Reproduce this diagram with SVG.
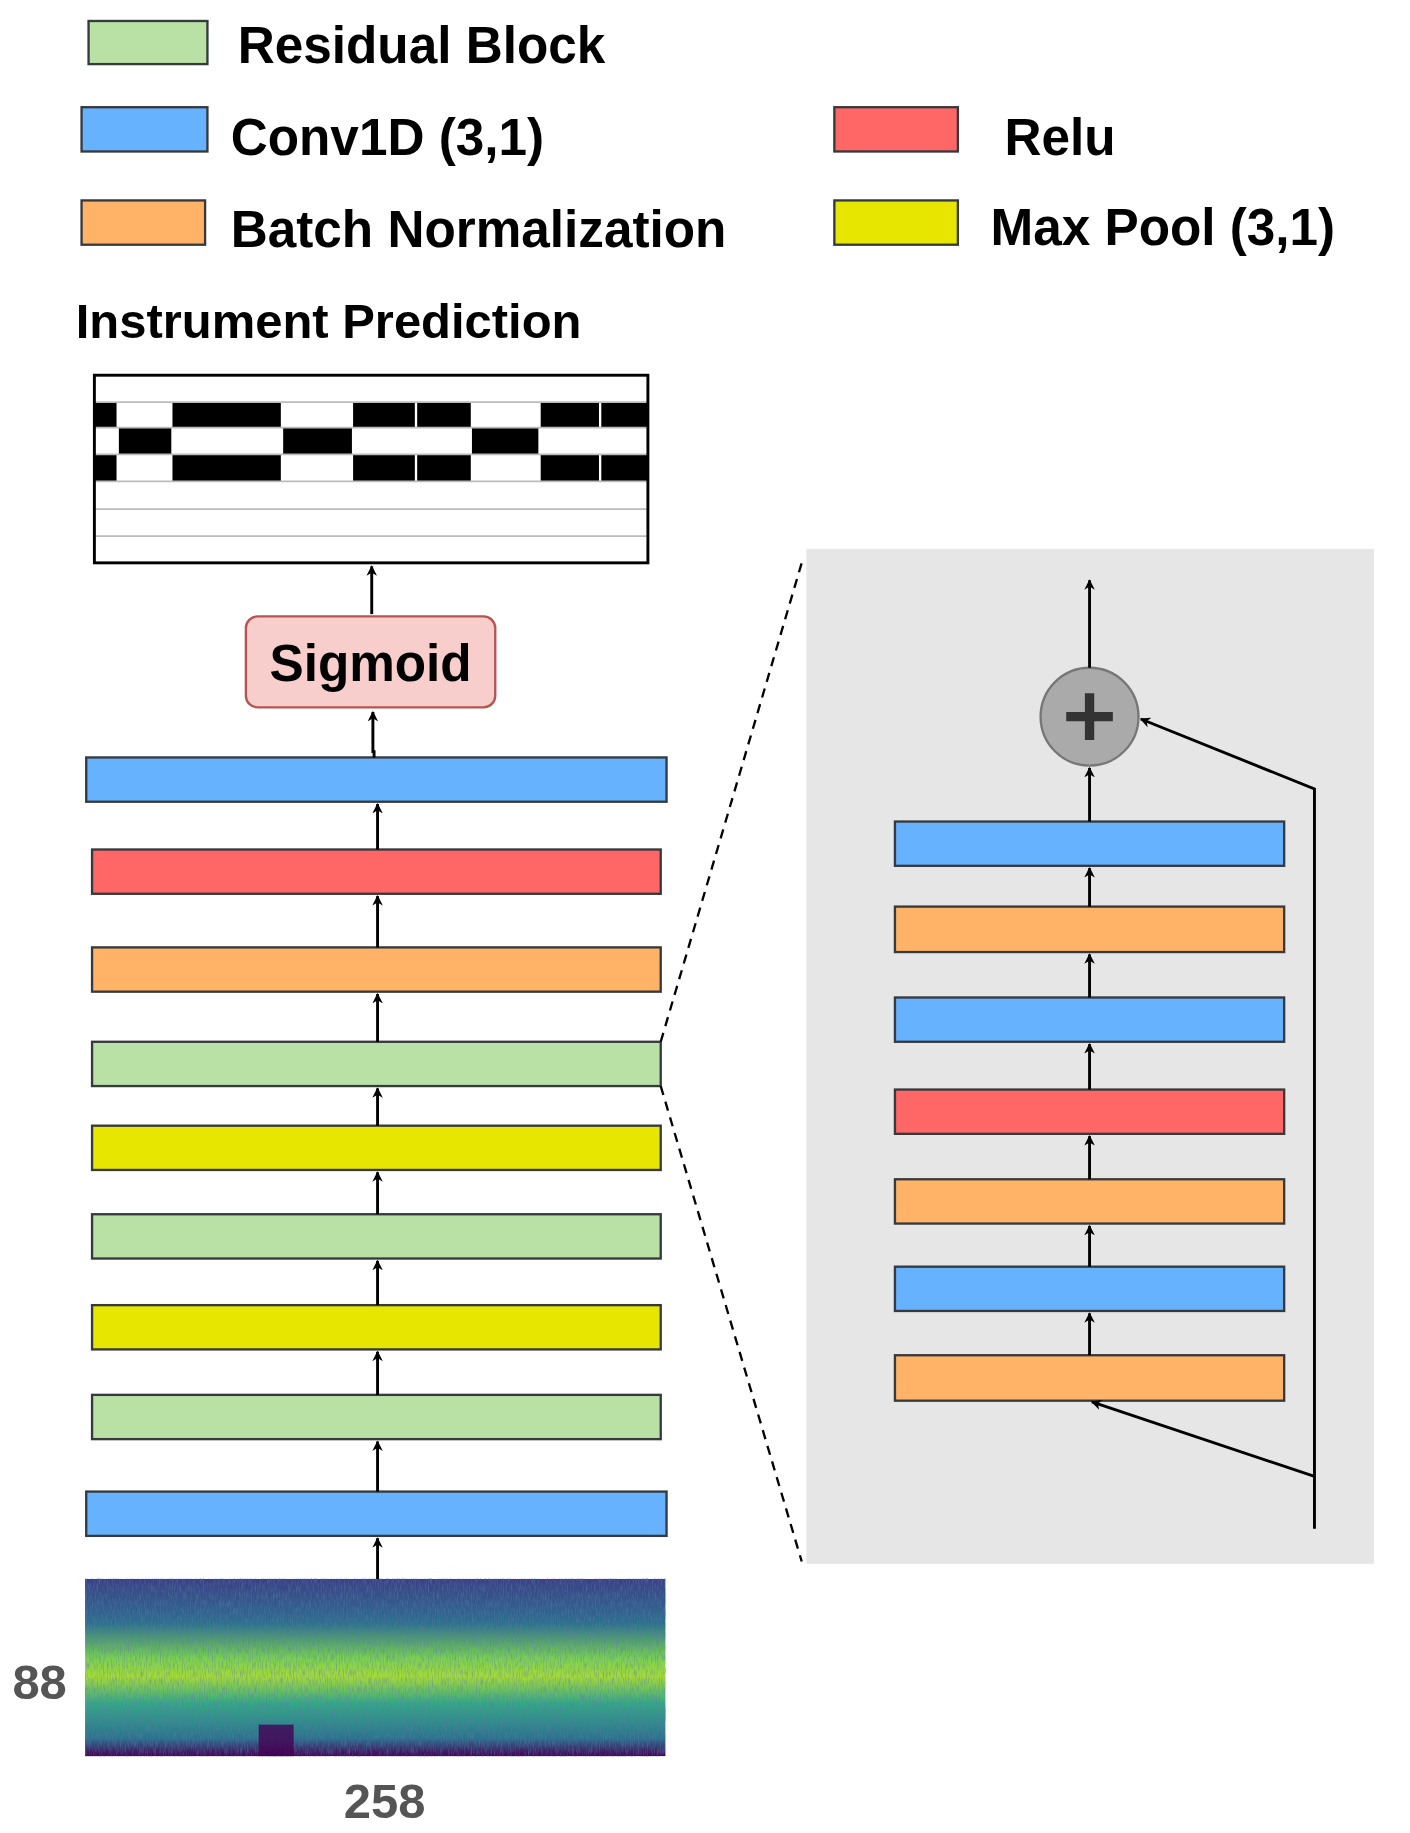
<svg xmlns="http://www.w3.org/2000/svg" width="1410" height="1833" viewBox="0 0 1410 1833">
<style>
.lt{font-family:"Liberation Sans",Arial,sans-serif;font-weight:bold;fill:#000}
.bar{stroke:#36393d;stroke-width:2}
.b{fill:#66b2ff}.o{fill:#ffb366}.r{fill:#ff6666}.g{fill:#b9e0a5}.y{fill:#e6e600}
.ar{stroke:#000;stroke-width:2.5;fill:none;marker-end:url(#ah)}
.cell{fill:#000}
.gl{stroke:#bbb;stroke-width:1.5}
</style>
<defs>
<marker id="ah" viewBox="0 0 10 10" refX="9" refY="5" markerWidth="9" markerHeight="9" orient="auto" markerUnits="userSpaceOnUse">
<path d="M0,0 L10,5 L0,10 L3,5 Z" fill="#000" transform="scale(1)"/>
</marker>
<linearGradient id="spec" x1="0" y1="0" x2="0" y2="1">
<stop offset="0" stop-color="#3b3f86"/>
<stop offset="0.25" stop-color="#2d6f8e"/>
<stop offset="0.45" stop-color="#7ad151"/>
<stop offset="0.55" stop-color="#a5db36"/>
<stop offset="0.7" stop-color="#35a886"/>
<stop offset="0.9" stop-color="#2c728e"/>
<stop offset="1" stop-color="#440154"/>
</linearGradient>
<filter id="noise" x="0" y="0" width="1" height="1">
<feTurbulence type="fractalNoise" baseFrequency="0.9 0.15" numOctaves="2" seed="3"/>
<feColorMatrix type="matrix" values="0 0 0 0 0.1  0 0 0 0 0.2  0 0 0 0 0.4  0 0 0 1.1 -0.45"/>
</filter>
</defs>
<g transform="scale(1.1653)">
<g id="legend">
<rect class="bar g" x="76" y="18" width="102" height="37"/>
<text class="lt" x="204" y="54" font-size="44">Residual Block</text>
<rect class="bar b" x="70" y="92" width="108" height="38"/>
<text class="lt" x="198" y="133" font-size="44">Conv1D (3,1)</text>
<rect class="bar r" x="716" y="92" width="106" height="38"/>
<text class="lt" x="862" y="133" font-size="44">Relu</text>
<rect class="bar o" x="70" y="172" width="106" height="38"/>
<text class="lt" x="198" y="212" font-size="44">Batch Normalization</text>
<rect class="bar y" x="716" y="172" width="106" height="38"/>
<text class="lt" x="850" y="210" font-size="44">Max Pool (3,1)</text>
</g>
<text class="lt" x="65" y="290" font-size="42">Instrument Prediction</text>
<g id="output">
<rect x="81" y="322" width="475" height="161" fill="#fff"/>
<g class="cell">
<rect x="81" y="345" width="19" height="22"/><rect x="148" y="345" width="93" height="22"/><rect x="303" y="345" width="53" height="22"/><rect x="358" y="345" width="46" height="22"/><rect x="464" y="345" width="50" height="22"/><rect x="516" y="345" width="40" height="22"/>
<rect x="102" y="367" width="45" height="23"/><rect x="243" y="367" width="59" height="23"/><rect x="405" y="367" width="57" height="23"/>
<rect x="81" y="390" width="19" height="23"/><rect x="148" y="390" width="93" height="23"/><rect x="303" y="390" width="53" height="23"/><rect x="358" y="390" width="46" height="23"/><rect x="464" y="390" width="50" height="23"/><rect x="516" y="390" width="40" height="23"/>
</g>
<line class="gl" x1="81" y1="345" x2="556" y2="345"/><line class="gl" x1="81" y1="367" x2="556" y2="367"/><line class="gl" x1="81" y1="390" x2="556" y2="390"/><line class="gl" x1="81" y1="413" x2="556" y2="413"/><line class="gl" x1="81" y1="437" x2="556" y2="437"/><line class="gl" x1="81" y1="460" x2="556" y2="460"/>
<rect x="81" y="322" width="475" height="161" fill="none" stroke="#000" stroke-width="2.5"/>
</g>
<g id="sigmoid">
<rect x="211" y="529" width="214" height="78" rx="10" fill="#f8cecc" stroke="#b85450" stroke-width="2"/>
<text class="lt" x="318" y="584" font-size="44" text-anchor="middle">Sigmoid</text>
</g>
<g id="layers">
<rect class="bar b" x="74" y="650" width="498" height="38"/>
<rect class="bar r" x="79" y="729" width="488" height="38"/>
<rect class="bar o" x="79" y="813" width="488" height="38"/>
<rect class="bar g" x="79" y="894" width="488" height="38"/>
<rect class="bar y" x="79" y="966" width="488" height="38"/>
<rect class="bar g" x="79" y="1042" width="488" height="38"/>
<rect class="bar y" x="79" y="1120" width="488" height="38"/>
<rect class="bar g" x="79" y="1197" width="488" height="38"/>
<rect class="bar b" x="74" y="1280" width="498" height="38"/>
</g>
<g id="spectrogram">
<rect x="73" y="1355" width="498" height="152" fill="url(#spec)"/>
<rect x="73" y="1355" width="498" height="152" filter="url(#noise)"/>
<rect x="222" y="1480" width="30" height="27" fill="#440154" opacity="0.8"/>
</g>
<text x="34" y="1458" font-size="42" text-anchor="middle" font-family="Liberation Sans,Arial,sans-serif" font-weight="bold" fill="#555">88</text>
<text x="330" y="1560" font-size="42" text-anchor="middle" font-family="Liberation Sans,Arial,sans-serif" font-weight="bold" fill="#555">258</text>
<g id="panel">
<rect x="692" y="471" width="487" height="871" fill="#e6e6e6"/>
<rect class="bar b" x="768" y="705" width="334" height="38"/>
<rect class="bar o" x="768" y="778" width="334" height="39"/>
<rect class="bar b" x="768" y="856" width="334" height="38"/>
<rect class="bar r" x="768" y="935" width="334" height="38"/>
<rect class="bar o" x="768" y="1012" width="334" height="38"/>
<rect class="bar b" x="768" y="1087" width="334" height="38"/>
<rect class="bar o" x="768" y="1163" width="334" height="39"/>
</g>
<g id="add">
<circle cx="935" cy="615" r="42" fill="#aaa" stroke="#777" stroke-width="2"/>
<path d="M931,595 h8 v16 h16 v8 h-16 v16 h-8 v-16 h-16 v-8 h16 Z" fill="#333"/>
</g>
<g id="connectors">
<line class="ar" x1="319" y1="527" x2="319" y2="486"/>
<polyline class="ar" points="321,650 321,645 320,645 320,611"/>
<line class="ar" x1="324" y1="729" x2="324" y2="690"/>
<line class="ar" x1="324" y1="813" x2="324" y2="769"/>
<line class="ar" x1="324" y1="894" x2="324" y2="853"/>
<line class="ar" x1="324" y1="966" x2="324" y2="934"/>
<line class="ar" x1="324" y1="1042" x2="324" y2="1006"/>
<line class="ar" x1="324" y1="1120" x2="324" y2="1082"/>
<line class="ar" x1="324" y1="1197" x2="324" y2="1160"/>
<line class="ar" x1="324" y1="1280" x2="324" y2="1237"/>
<line class="ar" x1="324" y1="1355" x2="324" y2="1320"/>
<line x1="567" y1="894" x2="688" y2="483" stroke="#000" stroke-width="2" stroke-dasharray="8,6"/>
<line x1="567" y1="932" x2="688" y2="1340" stroke="#000" stroke-width="2" stroke-dasharray="8,6"/>
<line class="ar" x1="935" y1="573" x2="935" y2="498"/>
<line class="ar" x1="935" y1="705" x2="935" y2="659"/>
<line class="ar" x1="935" y1="778" x2="935" y2="745"/>
<line class="ar" x1="935" y1="856" x2="935" y2="819"/>
<line class="ar" x1="935" y1="935" x2="935" y2="896"/>
<line class="ar" x1="935" y1="1012" x2="935" y2="975"/>
<line class="ar" x1="935" y1="1087" x2="935" y2="1052"/>
<line class="ar" x1="935" y1="1163" x2="935" y2="1127"/>
<polyline class="ar" points="1128,1312 1128,677 979,617"/>
<line class="ar" x1="1128" y1="1267" x2="937" y2="1203"/>
</g>
</g>
</svg>
